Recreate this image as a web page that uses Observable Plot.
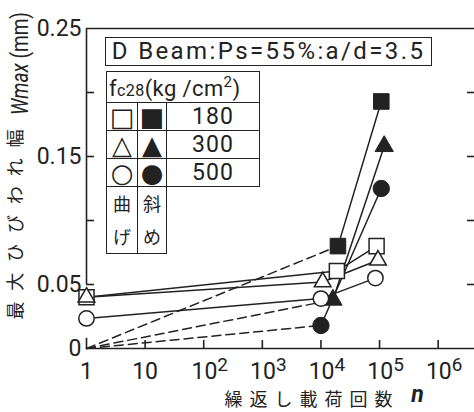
<!DOCTYPE html>
<html>
<head>
<meta charset="utf-8">
<script src="https://cdn.jsdelivr.net/npm/d3@7"></script>
<script src="https://cdn.jsdelivr.net/npm/@observablehq/plot@0.6"></script>
<style>
  html, body { margin: 0; padding: 0; background: #fff; }
  #wrap { position: relative; width: 474px; height: 412px; overflow: hidden; font-family: Roboto, sans-serif; color: #222; }
  #wrap svg { position: absolute; left: 0; top: 0; }
  #title { position: absolute; left: 105px; top: 37px; width: 325px; height: 27px; border: 1.6px solid #222;
           font-size: 24px; line-height: 27px; letter-spacing: 2.4px; text-align: center; white-space: nowrap; }
  #legend { position: absolute; left: 106px; top: 71px; border-collapse: collapse; }
  #legend td { border: 1.6px solid #222; padding: 0; text-align: center; vertical-align: middle; }
  #legend td.sym { font-family: "DejaVu Sans", sans-serif; font-size: 26px; line-height: 26px; }
  #legend td.val { font-size: 23px; letter-spacing: 1px; }
  #legend td.hdr { font-size: 22px; text-align: left; padding-left: 2px; white-space: nowrap; letter-spacing: 0.4px; }
  #legend td.jp { font-family: "Noto Sans CJK JP", sans-serif; font-size: 18px; line-height: 33px; }
  #legend td.blank { border: none; border-top: 1.6px solid #222; }
</style>
</head>
<body>
<div id="wrap"></div>
<script>
// ---------- data ----------
const grades = [180, 300, 500];                       // fc28 (kg/cm2)
// 曲げ (bending) cracks: open markers, solid lines
const bendN = [[1, 1.87e4, 8.9e4], [1, 1.07e4, 9.4e4], [1, 1.0e4, 8.5e4]];
const bendW = [[0.040, 0.0605, 0.080], [0.040, 0.052, 0.069], [0.0235, 0.039, 0.055]];
// 斜め (diagonal) cracks: filled markers, dashed from origin then solid
const shearN = [[1.95e4, 1.07e5], [1.6e4, 1.2e5], [1.0e4, 1.07e5]];
const shearW = [[0.080, 0.193], [0.038, 0.158], [0.018, 0.125]];
const shearOrigin = [1, 0];
// axes
const yTickVals = [0.05, 0.1, 0.15, 0.2];
const yLabelVals = [0, 0.05, 0.15, 0.25];
const yLabelText = ["0", "0.05", "0.15", "0.25"];
const xTickVals = [10, 1e2, 1e3, 1e4, 1e5, 1e6];
const xLabelVals = [1, 10, 1e2, 1e3, 1e4, 1e5, 1e6];
const xLabelText = ["1", "10", "10^2", "10^3", "10^4", "10^5", "10^6"];
const frameY = [0, 0.25];
const leftAxisSegs = [[0.05, 0.25], [0, 0.008]];
// texts
const yTitleJa = "最大ひびわれ幅";
const yTitleEn = "Wmax (mm)";
const xTitle = "繰返し載荷回数";
const xVar = "n";
const legendTitle = "D Beam:Ps=55%:a/d=3.5";
const openGlyphs = ["□", "△", "○"];
const filledGlyphs = ["■", "▲", "●"];
const kindBend = ["曲", "げ"];
const kindShear = ["斜", "め"];

// ---------- build rows ----------
const bendRows = grades.flatMap((g, i) => bendN[i].map((n, j) => ({grade: g, n, w: bendW[i][j]})));
const shearRows = grades.flatMap((g, i) => shearN[i].map((n, j) => ({grade: g, n, w: shearW[i][j]})));
const dashRows = grades.flatMap((g, i) => [
  {grade: g, n: shearOrigin[0], w: shearOrigin[1]},
  {grade: g, n: shearN[i][0], w: shearW[i][0]}
]);

const ink = "#222";
const symbolOf = {180: "square", 300: "triangle", 500: "circle"};
const rOpen = {180: 8.5, 300: 6.2, 500: 7.7};
const rFilled = {180: 8.8, 300: 6.8, 500: 8.2};
const yLabelMap = new Map(yLabelVals.map((v, i) => [v, yLabelText[i]]));
const xLabelMap = new Map(xLabelVals.map((v, i) => [v, xLabelText[i]]));

const dotMarks = grades.flatMap(g => [
  Plot.dot(bendRows.filter(d => d.grade === g), {x: "n", y: "w", symbol: symbolOf[g], r: rOpen[g], fill: "white", stroke: ink, strokeWidth: 1.5}),
  Plot.dot(shearRows.filter(d => d.grade === g), {x: "n", y: "w", symbol: symbolOf[g], r: rFilled[g], fill: ink, stroke: ink, strokeWidth: 1})
]);

const chart = Plot.plot({
  width: 474, height: 412,
  marginLeft: 86, marginRight: 0, marginTop: 28, marginBottom: 64,
  style: {fontFamily: "Roboto, sans-serif", fontSize: "23px", color: ink, background: "transparent"},
  x: {type: "log", domain: [1, Math.pow(10, 6.62)], label: null},
  y: {domain: [0, 0.25], label: null},
  marks: [
    Plot.ruleY(frameY, {stroke: ink, strokeWidth: 1.6}),
    Plot.ruleX(leftAxisSegs, {x: 1, y1: d => d[0], y2: d => d[1], stroke: ink, strokeWidth: 1.6}),
    Plot.axisY(yTickVals, {anchor: "left", tickSize: -8, text: null, label: null, stroke: ink, strokeWidth: 1.6}),
    Plot.axisY(yTickVals, {anchor: "right", tickSize: -8, text: null, label: null, stroke: ink, strokeWidth: 1.6}),
    Plot.axisY(yLabelVals, {anchor: "left", tickSize: 0, tickPadding: 5, label: null, tickFormat: d => yLabelMap.get(d), fontSize: 23, fill: ink}),
    Plot.axisX(xTickVals, {anchor: "bottom", tickSize: -8, text: null, label: null, stroke: ink, strokeWidth: 1.6}),
    Plot.axisX(xLabelVals, {anchor: "bottom", tickSize: 0, tickPadding: 14, label: null, tickFormat: d => xLabelMap.get(d), fontSize: 23, fill: ink}),
    Plot.line(bendRows, {x: "n", y: "w", z: "grade", stroke: ink, strokeWidth: 1.5}),
    Plot.line(dashRows, {x: "n", y: "w", z: "grade", stroke: ink, strokeWidth: 1.5, strokeDasharray: "9,5"}),
    Plot.line(shearRows, {x: "n", y: "w", z: "grade", stroke: ink, strokeWidth: 1.5}),
    ...dotMarks,
    Plot.text([yTitleJa], {text: d => d, frameAnchor: "left", textAnchor: "middle", lineAnchor: "middle", rotate: -90, dx: -70, dy: 36, fontSize: 18, fill: ink, fontFamily: "Noto Sans CJK JP"}),
    Plot.text([yTitleEn], {text: d => d, frameAnchor: "left", textAnchor: "middle", lineAnchor: "middle", rotate: -90, dx: -66, dy: -125, fontSize: 23, fill: ink}),
    Plot.text([xTitle], {text: d => d, frameAnchor: "bottom", textAnchor: "middle", dx: 28, dy: 52, lineAnchor: "middle", fontSize: 18, fill: ink, fontFamily: "Noto Sans CJK JP"}),
    Plot.text([xVar], {text: d => d, frameAnchor: "bottom", textAnchor: "middle", dx: 137, dy: 46, lineAnchor: "middle", fontSize: 23, fontStyle: "italic", fontWeight: "bold", fill: ink})
  ]
});

// superscript tick labels and mixed-style title
d3.select(chart).selectAll("text").each(function() {
  const t = this.textContent;
  const m = /^10\^(\d)$/.exec(t);
  if (m) {
    const s = d3.select(this);
    s.text("10").attr("dx", 6);
    s.append("tspan").attr("dy", -8).attr("font-size", 19).text(m[1]);
  }
  if (t === yTitleEn) {
    const s = d3.select(this);
    s.text("");
    s.append("tspan").attr("font-style", "italic").text("Wmax");
    s.append("tspan").text(" (mm)");
    s.attr("textLength", 103).attr("lengthAdjust", "spacingAndGlyphs");
  }
  if (t === yTitleJa) d3.select(this).attr("textLength", 190).attr("lengthAdjust", "spacing");
  if (t === xTitle) d3.select(this).attr("textLength", 168).attr("lengthAdjust", "spacing");
});

const wrap = document.getElementById("wrap");
wrap.appendChild(chart);

// legend
const title = document.createElement("div");
title.id = "title";
title.textContent = legendTitle;
wrap.appendChild(title);

const table = document.createElement("table");
table.id = "legend";
let html = `<tr style="height:31px"><td class="hdr" colspan="3">f<span style="font-size:16px">c28</span>(kg /cm<sup style="font-size:15px;vertical-align:9px">2</sup>)</td></tr>`;
grades.forEach((g, i) => {
  html += `<tr style="height:28px"><td class="sym" style="width:30px">${openGlyphs[i]}</td><td class="sym" style="width:28px">${filledGlyphs[i]}</td><td class="val" style="width:92px">${g}</td></tr>`;
});
html += `<tr style="height:64px"><td class="jp">${kindBend.join("<br>")}</td><td class="jp">${kindShear.join("<br>")}</td><td class="blank"></td></tr>`;
table.innerHTML = html;
wrap.appendChild(table);
</script>
</body>
</html>
